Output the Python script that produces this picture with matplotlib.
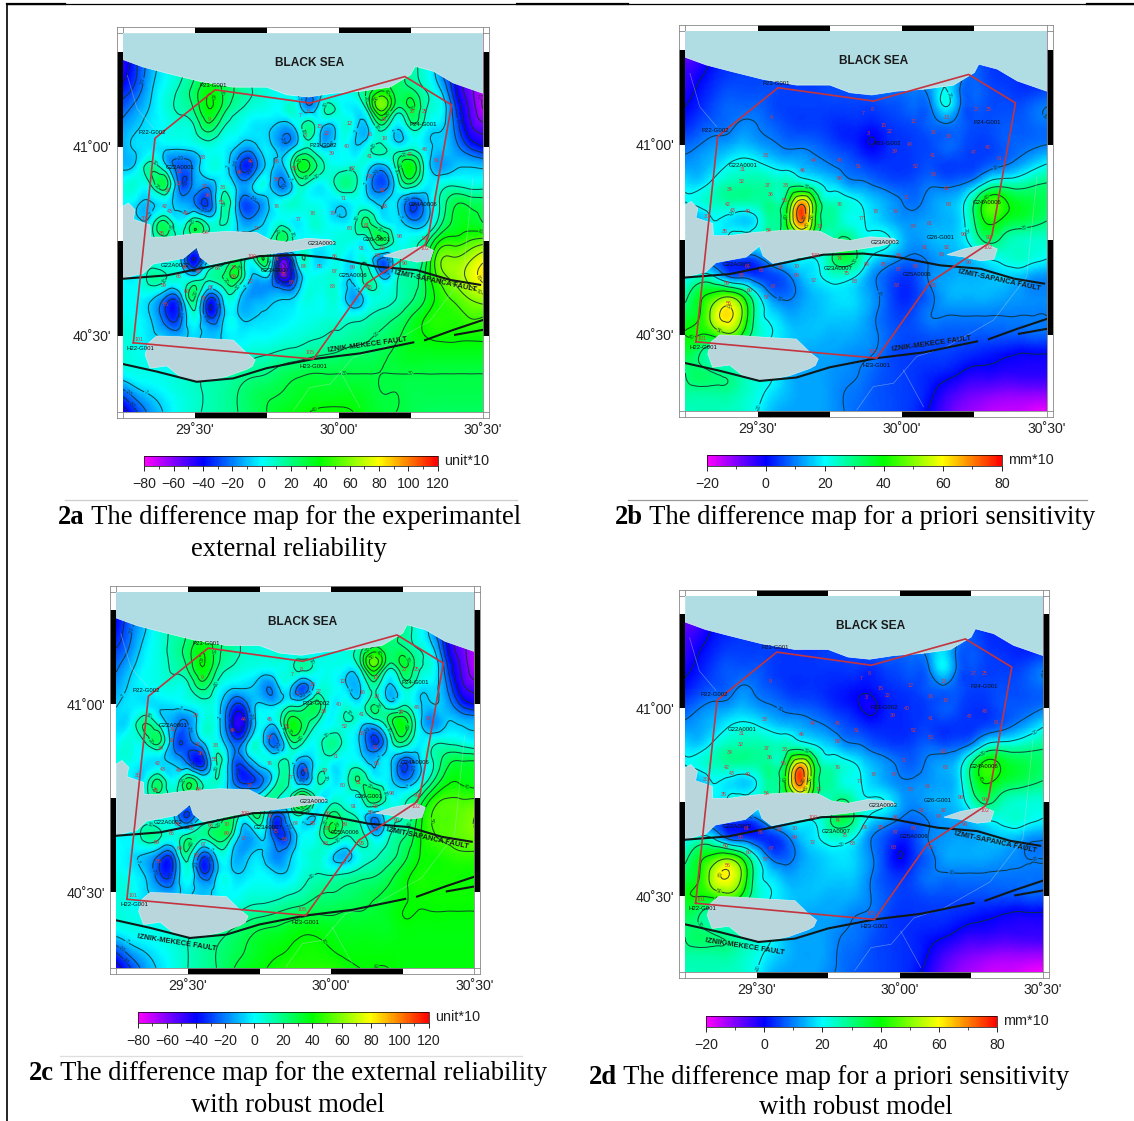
import numpy as np
import matplotlib
matplotlib.use('Agg')
import matplotlib.pyplot as plt
import matplotlib.tri as mtri
from matplotlib.cm import ScalarMappable
from matplotlib.colors import LinearSegmentedColormap, Normalize
from matplotlib.patches import Polygon, Rectangle
from matplotlib.ticker import MultipleLocator

W, H = 1134, 1121

# grid the difference values were read on
lon_grid = [29.25, 29.30, 29.35, 29.40, 29.45, 29.50, 29.55, 29.60, 29.65, 29.70, 29.75, 29.80, 29.85,
            29.90, 29.95, 30.00, 30.05, 30.10, 30.15, 30.20, 30.25, 30.30, 30.35, 30.40, 30.45, 30.50]
lat_grid = [41.30, 41.25, 41.20, 41.15, 41.10, 41.05, 41.00, 40.95, 40.90, 40.85, 40.80,
            40.75, 40.70, 40.65, 40.60, 40.55, 40.50, 40.45, 40.40, 40.35, 40.30]

values_a = [
    [-45,-30,-15,0,10,20,25,25,20,10,5,0,-5,-15,-10,-5,5,20,25,25,15,5,-20,-50,-70,-80],
    [-45,-30,-15,0,10,20,25,28,20,10,5,0,-5,-15,-10,-5,5,20,25,25,15,5,-18,-45,-65,-78],
    [-45,-30,-12,0,8,18,28,28,20,10,5,0,-5,-15,-10,-5,5,20,28,28,15,5,-15,-40,-60,-75],
    [-35,-25,-8,3,12,25,38,28,18,10,5,0,-5,-18,-8,-3,5,22,38,25,22,10,-5,-35,-55,-70],
    [-25,-15,-5,5,12,22,40,25,12,5,3,2,5,-15,10,5,-3,15,55,20,30,12,3,-25,-50,-70],
    [-15,-8,-3,2,5,10,25,10,3,-3,-5,-13,-5,18,-10,0,0,-8,15,-5,12,3,-5,-20,-45,-55],
    [-12,-5,-3,-3,-3,0,5,0,-8,-12,-3,-15,-5,8,-8,0,-5,3,12,0,5,-3,-8,-15,-30,-40],
    [-10,-3,15,-5,-25,-15,3,0,-25,-30,-5,-10,25,30,10,3,5,0,-10,15,38,5,-15,-10,-8,-10],
    [3,5,12,25,-25,-15,-15,3,-12,-8,0,-22,3,5,0,15,15,-10,-28,0,18,0,3,8,5,5],
    [0,-5,-8,-3,-12,-20,-28,15,-15,-25,-10,3,8,3,0,-5,0,0,-8,-5,-28,-15,10,28,28,25],
    [0,-3,3,22,0,22,5,12,-8,-15,-5,5,-3,5,3,-3,5,22,3,-3,-15,-10,15,32,35,30],
    [0,3,5,10,5,5,0,0,0,0,5,22,5,0,0,5,3,5,28,5,5,15,40,45,50,55],
    [0,-5,3,0,-5,-40,-5,5,25,5,25,-50,-10,3,-5,3,-3,5,-25,3,10,25,58,62,68,78],
    [0,0,15,10,5,5,12,20,25,-10,-10,-45,-25,3,5,3,-5,15,-5,8,15,30,52,62,72,82],
    [0,0,-5,-22,-15,20,-30,-3,-3,-15,-12,-8,-5,5,3,3,-15,0,5,10,18,30,44,52,60,66],
    [3,0,-8,-28,-25,5,-30,-8,-5,-8,-5,-3,0,3,5,5,5,10,15,20,30,40,45,45,50,50],
    [5,3,-5,-10,-12,-5,-10,-5,-2,0,0,3,5,8,10,12,15,18,22,28,35,40,42,42,42,42],
    [5,3,0,-3,-3,0,0,3,5,8,10,13,15,18,20,22,25,25,28,32,35,35,35,35,35,35],
    [0,3,3,3,5,8,10,12,15,18,20,25,28,30,30,30,30,30,30,30,30,30,30,30,30,30],
    [-25,-12,-5,0,5,8,12,15,20,25,28,30,33,35,35,35,35,33,30,30,28,28,28,28,28,28],
    [-45,-30,-15,-5,3,8,12,15,20,25,30,35,38,40,42,42,40,35,32,30,28,26,25,25,25,25],
]

values_b = [
    [-8,-5,0,3,3,3,3,3,3,3,3,3,3,3,5,5,8,10,12,10,5,3,3,3,3,3],
    [-8,-5,0,3,4,4,3,3,3,3,4,4,4,5,6,8,10,12,14,12,8,4,3,3,3,3],
    [-5,-2,2,4,5,5,5,4,4,4,5,6,7,8,9,10,12,14,18,12,8,5,4,4,4,4],
    [-3,1,4,6,6,6,6,5,5,5,6,6,7,8,9,9,10,13,20,10,8,6,5,4,4,5],
    [0,3,6,8,8,8,6,5,5,5,5,5,5,5,6,7,8,10,20,10,7,6,6,6,8,10],
    [3,6,8,9,11,10,8,6,5,5,4,3,3,2,4,5,6,8,9,8,6,6,7,7,8,9],
    [8,10,12,13,15,13,11,9,9,8,6,4,2,0,3,4,5,6,8,7,5,5,7,8,9,10],
    [12,13,16,20,22,21,18,16,14,12,10,8,6,4,4,4,5,6,5,5,5,7,9,12,16,20],
    [18,17,22,26,27,27,26,26,25,21,17,13,11,9,7,6,7,9,8,9,13,22,25,25,28,30],
    [20,22,25,27,27,27,28,35,65,40,25,23,20,16,13,10,9,12,14,17,30,45,42,37,35,33],
    [18,15,20,18,16,20,28,40,72,40,28,23,21,18,15,12,12,13,14,17,30,42,38,35,33,30],
    [20,18,18,20,22,22,25,28,38,30,25,32,25,22,21,15,12,14,15,17,25,32,28,25,24,24],
    [15,12,8,6,6,8,15,18,20,20,28,35,28,18,14,10,9,11,13,14,16,20,22,24,22,20],
    [20,25,22,12,10,6,5,8,14,18,22,22,18,11,7,4,6,11,13,14,14,15,16,15,12,11],
    [28,38,45,50,40,22,11,9,12,15,17,18,16,12,7,3,5,9,13,14,14,14,13,12,11,11],
    [35,40,55,62,48,25,18,14,14,15,16,16,15,11,7,5,7,10,10,10,10,10,10,10,10,10],
    [40,40,42,48,38,25,20,17,15,15,14,14,13,11,8,6,6,7,7,7,7,7,7,7,8,8],
    [35,30,25,25,25,22,18,15,14,13,13,12,11,10,7,5,5,5,5,4,3,2,1,0,0,0],
    [30,32,30,28,25,22,20,15,13,13,12,11,10,8,6,5,4,3,2,0,-2,-2,-3,-3,-3,-3],
    [28,28,28,28,25,22,18,15,13,13,12,10,9,7,6,5,4,1,-3,-6,-8,-9,-10,-10,-10,-10],
    [25,26,26,25,24,20,15,13,13,13,12,10,8,7,6,5,3,-1,-6,-10,-12,-14,-15,-15,-17,-18],
]

values_c = [
    [-40,-25,-10,5,10,20,25,28,20,10,5,0,-5,-15,-10,-5,5,20,28,28,15,5,-15,-45,-65,-75],
    [-40,-25,-10,5,10,20,26,28,20,10,5,0,-5,-15,-10,-5,5,20,28,28,15,5,-14,-42,-62,-74],
    [-38,-22,-8,5,12,20,28,28,18,10,5,0,-5,-15,-8,-3,3,18,25,25,18,5,-12,-40,-60,-72],
    [-30,-18,-3,5,14,25,38,25,15,8,5,3,0,-15,-5,0,3,15,32,22,22,10,-3,-35,-55,-68],
    [-22,-10,0,5,12,22,40,22,10,5,3,3,5,15,5,3,0,12,50,15,30,15,5,-25,-50,-68],
    [-15,-5,0,3,5,8,25,8,-3,-5,-12,-15,0,-25,0,3,-5,-8,15,-8,10,3,-3,-18,-45,-55],
    [-8,-3,-3,-5,-3,0,5,0,-25,-25,-5,-8,5,8,25,0,5,0,20,0,8,-3,-8,-12,-30,-40],
    [-5,0,20,5,-15,-20,3,0,-35,-38,0,-5,32,28,10,0,8,0,-3,20,38,5,-18,-8,-8,-10],
    [0,5,10,22,-20,-25,-8,3,-20,-15,3,-25,10,12,3,18,5,-8,-32,-3,20,0,5,8,5,0],
    [3,3,-3,-5,-10,-25,-35,10,-15,-20,0,5,10,-15,0,3,0,0,-10,-3,-25,-12,8,25,30,30],
    [0,0,0,20,0,25,5,10,-15,-35,-25,0,12,-22,8,0,5,20,3,-3,-20,-8,15,35,38,35],
    [0,3,5,10,5,5,0,0,0,0,5,15,5,40,5,3,3,5,28,5,5,18,40,50,50,50],
    [0,-5,3,0,-5,-30,-3,5,25,3,20,-28,-10,3,-5,25,15,5,-20,3,10,30,50,52,55,60],
    [0,0,15,12,5,15,15,25,15,-15,-5,-25,-25,0,5,25,10,15,-5,8,18,35,48,52,55,58],
    [0,-3,-8,-20,-20,15,-25,-3,-5,-12,-5,-18,-12,3,8,-3,-12,3,8,15,25,38,42,45,48,48],
    [3,0,-8,-28,-25,5,-28,-8,-3,-5,0,-5,-5,5,10,8,10,15,18,25,35,42,42,42,42,42],
    [5,3,-5,-12,-12,-5,-10,-3,0,3,5,5,8,12,18,20,22,25,28,32,38,42,42,42,42,42],
    [5,3,0,-3,-3,0,0,5,8,12,15,18,22,25,28,28,30,30,32,35,40,40,40,40,40,40],
    [0,3,3,3,5,8,12,15,20,25,30,32,35,38,38,36,35,35,35,35,38,38,38,38,38,38],
    [-25,-12,-5,0,5,10,15,20,25,30,35,38,40,42,42,40,38,38,38,38,38,38,38,38,38,38],
    [-45,-30,-15,-5,3,10,15,20,28,35,38,42,45,45,45,45,42,40,40,40,38,38,38,38,38,38],
]

values_d = [
    [-9,-6,-1,2,2,2,2,2,2,2,2,2,2,2,4,4,6,9,11,9,4,2,2,2,2,2],
    [-9,-6,-1,2,3,3,2,2,2,2,3,3,3,4,5,7,9,11,13,11,7,3,2,2,2,2],
    [-6,-3,1,3,4,4,4,3,3,3,4,5,6,7,8,9,11,13,16,11,7,4,3,3,3,3],
    [-4,0,3,5,5,5,5,4,4,4,5,5,6,7,8,8,9,12,18,9,7,5,4,3,3,4],
    [-1,2,5,7,7,7,5,4,4,4,4,4,4,3,5,6,7,9,18,9,6,5,5,5,7,10],
    [2,5,7,8,11,9,7,5,4,4,3,2,1,1,3,4,5,7,8,7,5,5,6,6,7,8],
    [7,10,12,13,15,13,11,9,8,7,5,3,1,-1,2,3,4,5,7,6,4,4,6,7,8,10],
    [12,13,16,20,22,21,18,16,14,12,10,7,5,3,3,3,4,5,4,4,4,6,8,11,15,20],
    [18,17,22,26,27,27,26,26,25,21,17,13,11,8,6,5,6,8,7,8,12,22,25,25,27,29],
    [20,22,25,27,27,27,28,35,65,40,25,23,20,15,12,9,8,11,13,16,30,43,40,36,34,32],
    [18,15,20,18,16,20,28,40,72,40,28,23,21,17,14,11,11,12,13,16,30,40,36,33,31,29],
    [20,18,18,20,22,22,25,28,38,30,25,32,25,21,20,14,11,13,14,16,24,31,27,24,23,23],
    [15,12,8,5,5,7,15,18,20,20,28,34,27,17,13,9,8,10,12,13,15,19,21,23,21,19],
    [20,25,22,12,9,5,3,7,14,18,22,22,18,10,6,2,5,10,12,13,13,14,15,14,11,10],
    [28,38,45,50,40,22,10,8,12,15,17,18,16,11,5,0,4,8,12,13,13,13,12,11,10,10],
    [35,40,55,60,48,25,18,14,14,15,16,16,15,10,6,4,6,9,9,9,9,9,9,9,9,9],
    [38,40,42,46,38,25,20,17,15,15,14,14,13,10,7,5,5,6,6,6,6,6,6,6,7,7],
    [33,30,25,25,25,22,18,15,14,13,13,12,10,9,6,4,4,4,4,3,2,1,0,-1,-1,-1],
    [30,32,30,28,25,22,20,15,13,13,12,10,9,7,5,4,3,2,1,-1,-3,-3,-4,-4,-4,-4],
    [28,28,28,28,25,22,18,15,13,13,12,9,8,6,5,4,3,0,-4,-7,-9,-10,-11,-11,-11,-11],
    [25,26,26,25,24,20,15,13,13,13,11,9,7,6,5,4,2,-2,-7,-11,-13,-15,-16,-16,-18,-19],
]

# contour values drawn on each pair of maps
levels_unit = [-70, -60, -50, -40, -30, -20, -7, 10, 20, 30, 40, 50, 60, 70, 80]
levels_mm = [0, 10, 20, 30, 40, 50, 60, 70]

# coast, lakes, rivers, faults, network
black_sea_lon = [29.25, 29.322, 29.403, 29.519, 29.634, 29.75, 29.819, 29.895, 29.981, 30.074, 30.178,
                 30.25, 30.265, 30.329, 30.398, 30.5, 30.5, 29.25]
black_sea_lat = [41.23, 41.21, 41.194, 41.172, 41.157, 41.157, 41.137, 41.131, 41.141, 41.146, 41.157,
                 41.19, 41.212, 41.199, 41.168, 41.141, 41.3, 41.3]
gulf_lon = [29.25, 29.27, 29.293, 29.287, 29.345, 29.347, 29.403, 29.495, 29.611, 29.715, 29.762, 29.819,
            29.889, 29.97, 29.987, 29.924, 29.831, 29.75, 29.657, 29.553, 29.519, 29.507, 29.461, 29.356,
            29.322, 29.25]
gulf_lat = [40.842, 40.851, 40.833, 40.808, 40.793, 40.761, 40.761, 40.77, 40.776, 40.773, 40.754, 40.748,
            40.758, 40.754, 40.745, 40.734, 40.723, 40.716, 40.705, 40.688, 40.708, 40.734, 40.705, 40.69,
            40.666, 40.652]
sapanca_lon = [30.155, 30.213, 30.294, 30.329, 30.317, 30.271, 30.213]
sapanca_lat = [40.711, 40.726, 40.738, 40.726, 40.699, 40.695, 40.705]
iznik_lon = [29.328, 29.339, 29.368, 29.445, 29.519, 29.634, 29.66, 29.681, 29.71, 29.70, 29.681, 29.611, 29.519,
             29.449, 29.403, 29.345]
iznik_lat = [40.45, 40.481, 40.5, 40.498, 40.494, 40.489, 40.47, 40.454, 40.437, 40.42, 40.412, 40.393, 40.379,
             40.393, 40.421, 40.415]
river_lon = [29.843, 29.9, 29.97, 30.05, 30.154, 30.316, 30.431, 30.466]
river_lat = [40.303, 40.364, 40.373, 40.443, 40.469, 40.539, 40.653, 40.916]
river2_lon = [30.004, 30.074]
river2_lat = [40.408, 40.311]
river3_lon = [29.266, 29.3, 29.358]
river3_lat = [41.188, 41.1, 41.048]

izmit_lon = [29.25, 29.403, 29.576, 29.727, 29.866, 29.981, 30.132, 30.271, 30.387, 30.491]
izmit_lat = [40.651, 40.66, 40.687, 40.711, 40.714, 40.705, 40.683, 40.674, 40.648, 40.635]
mekece_lon = [29.25, 29.368, 29.507, 29.634, 29.75, 29.912, 30.074, 30.259]
mekece_lat = [40.426, 40.406, 40.379, 40.388, 40.415, 40.439, 40.454, 40.483]
mekece2_lon = [30.3, 30.398, 30.5]
mekece2_lat = [40.489, 40.516, 40.542]
mekece3_lon = [30.404, 30.5]
mekece3_lat = [40.503, 40.516]

network_lon = [29.287, 29.362, 29.571, 29.901, 30.23, 30.392, 30.311, 30.30, 30.097, 29.912, 29.287]
network_lat = [40.482, 41.022, 41.15, 41.115, 41.185, 41.11, 40.763, 40.741, 40.639, 40.439, 40.482]

station_names = ['P23-G001', 'P22-G002', 'G22A0001', 'P23-G002', 'P24-G001', 'G24A0006', 'G23A0003',
                 'G26-G001', 'G22A0002', 'G23A0007', 'G25A0006', 'H22-G001', 'H23-G001']
station_lon = [29.565, 29.353, 29.449, 29.947, 30.294, 30.294, 29.941, 30.132, 29.431, 29.779, 30.05, 29.312, 29.912]
station_lat = [41.162, 41.037, 40.945, 41.003, 41.058, 40.847, 40.743, 40.756, 40.685, 40.674, 40.66, 40.468, 40.42]

point_lon = [29.549,29.866,29.895,29.935,29.883,29.958,30.039,30.108,30.16,30.154,30.258,30.298,30.027,29.975,
             30.108,30.048,30.108,30.247,30.298,30.339,29.529,29.695,29.785,29.849,29.658,29.785,29.448,29.445,
             29.405,29.535,29.598,29.546,29.396,29.414,29.468,29.595,29.324,29.387,29.537,29.716,29.785,29.86,
             29.91,29.979,30.016,30.039,30.097,30.154,30.16,30.212,30.079,30.154,30.137,30.298,30.298,30.229,
             30.108,29.981,29.987,29.935,29.877,29.987,30.048,29.837,29.808,29.785,29.698,29.635,29.635,29.695,
             29.58,29.514,29.554,29.465,29.445,29.393,29.471,29.531,29.399,29.307,29.9]
point_lat = [41.072,41.081,41.093,41.052,41.03,41.034,41.061,41.032,41.021,41.072,41.093,41.093,41.001,40.982,
             40.973,40.942,40.922,40.98,40.992,40.964,40.971,40.96,40.96,40.942,40.932,40.912,40.934,40.903,
             40.883,40.894,40.892,40.87,40.842,40.828,40.824,40.853,40.811,40.771,40.774,40.785,40.843,40.807,
             40.824,40.824,40.862,40.785,40.793,40.885,40.843,40.763,40.73,40.73,40.712,40.757,40.73,40.691,
             40.629,40.631,40.71,40.684,40.684,40.671,40.68,40.64,40.662,40.701,40.71,40.681,40.656,40.644,
             40.678,40.67,40.627,40.68,40.656,40.634,40.618,40.599,40.583,40.491,40.456]
point_ids = ['9','7','8','15','3','22','12','16','18','13','27','25','40','39','41','52','53','47','48','61',
             '33','44','45','51','46','58','31','32','34','37','38','36','42','43','49','55','30','35','54','73',
             '76','77','78','79','71','80','81','62','63','98','91','92','93','99','102','90','95','88','86',
             '85','84','87','89','83','75','74','100','70','69','72','68','66','67','64','65','59','60','57',
             '56','101','105']

frames = {
    'a': dict(x0=122.7, x1=482.7, y0=33.0, y1=411.7, values=values_a, vmin=-80, vmax=120, unit='unit*10',
              bar=(144.3, 437.7, 455.7, 466.0), major=20, minor=10, fault_low=False, levels=levels_unit),
    'b': dict(x0=685.3, x1=1046.7, y0=30.7, y1=411.0, values=values_b, vmin=-20, vmax=80, unit='mm*10',
              bar=(706.7, 1001.7, 455.0, 465.7), major=20, minor=10, fault_low=False, levels=levels_mm),
    'c': dict(x0=116.3, x1=474.3, y0=591.7, y1=967.7, values=values_c, vmin=-80, vmax=120, unit='unit*10',
              bar=(137.7, 429.0, 1011.7, 1022.7), major=20, minor=10, fault_low=True, levels=levels_unit),
    'd': dict(x0=685.0, x1=1042.7, y0=595.7, y1=971.7, values=values_d, vmin=-20, vmax=80, unit='mm*10',
              bar=(705.7, 997.3, 1016.0, 1026.7), major=20, minor=10, fault_low=True, levels=levels_mm),
}

plt.rcParams['font.family'] = ['Liberation Sans', 'DejaVu Sans']
cmap = LinearSegmentedColormap.from_list('gmt_rainbow', ['#ff00ff', '#0000ff', '#00ffff', '#00ff00', '#ffff00', '#ff0000'])

fig = plt.figure(figsize=(W / 100, H / 100), dpi=100)
bg = fig.add_axes([0, 0, 1, 1])
bg.set_xlim(0, W)
bg.set_ylim(H, 0)
bg.axis('off')

# table rules
bg.plot([7, 7], [4, H], color='black', lw=1.2)
bg.plot([7, W], [4, 4], color='black', lw=0.9)
for a, b in [(7, 65), (517, 628), (1087, W)]:
    bg.plot([a, b], [4, 4], color='black', lw=1.6)
bg.plot([65, 517], [500, 500], color='#cccccc', lw=0.9)
bg.plot([628, 1087], [500, 500], color='#999999', lw=0.9)
bg.plot([60, 522], [1056, 1056], color='#dddddd', lw=0.9)


def draw_frame(x0, x1, y0, y1):
    s = 6
    dx = (x1 - x0) / 1.25
    dy = (y1 - y0) / 1.0
    for k in (1, 3):
        xa = x0 + k * 0.25 * dx
        bg.add_patch(Rectangle((xa, y0 - s), 0.25 * dx, s, color='black', lw=0))
        bg.add_patch(Rectangle((xa, y1), 0.25 * dx, s, color='black', lw=0))
    for lat_top in (41.25, 40.75):
        ya = y0 + (41.3 - lat_top) * dy
        bg.add_patch(Rectangle((x0 - s, ya), s, 0.25 * dy, color='black', lw=0))
        bg.add_patch(Rectangle((x1, ya), s, 0.25 * dy, color='black', lw=0))
    for v in (x0 - s, x0, x1, x1 + s):
        bg.plot([v, v], [y0 - s, y1 + s], color='#888888', lw=0.6)
    for v in (y0 - s, y0, y1, y1 + s):
        bg.plot([x0 - s, x1 + s], [v, v], color='#888888', lw=0.6)


def draw_map(p):
    x0, x1, y0, y1 = p['x0'], p['x1'], p['y0'], p['y1']
    draw_frame(x0, x1, y0, y1)
    ax = fig.add_axes([x0 / W, 1 - y1 / H, (x1 - x0) / W, (y1 - y0) / H])
    ax.patch.set_alpha(0)

    lon, lat = np.meshgrid(lon_grid, lat_grid)
    tri = mtri.Triangulation(lon.ravel(), lat.ravel())
    refiner = mtri.UniformTriRefiner(tri)
    fine, z = refiner.refine_field(np.array(p['values'], dtype=float).ravel(), subdiv=3)
    ax.tripcolor(fine, z, shading='gouraud', cmap=cmap, vmin=p['vmin'], vmax=p['vmax'], zorder=1)
    cs = ax.tricontour(fine, z, levels=p['levels'], colors='#10302e', linewidths=0.75, alpha=0.85,
                       linestyles='solid', zorder=2)
    for label in ax.clabel(cs, fontsize=3.6, fmt='%d', inline=True, inline_spacing=0):
        label.set_zorder(2.5)

    for xs, ys in [(river_lon, river_lat), (river2_lon, river2_lat), (river3_lon, river3_lat)]:
        ax.plot(xs, ys, color='#c8d8d8', lw=0.5, alpha=0.45, zorder=2)
    ax.add_patch(Polygon(np.c_[black_sea_lon, black_sea_lat], fc='#b0dde4', ec='#d8f0f0', lw=0.5, zorder=3))
    for xs, ys in [(gulf_lon, gulf_lat), (sapanca_lon, sapanca_lat), (iznik_lon, iznik_lat)]:
        ax.add_patch(Polygon(np.c_[xs, ys], fc='#b9d6dd', ec='#d5e8ea', lw=0.5, zorder=3))

    ax.plot(izmit_lon, izmit_lat, color='#101818', lw=1.5, zorder=4)
    for xs, ys in [(mekece_lon, mekece_lat), (mekece2_lon, mekece2_lat), (mekece3_lon, mekece3_lat)]:
        ax.plot(xs, ys, color='#101818', lw=1.5, zorder=4)
    ax.plot(network_lon, network_lat, color='#c4343f', lw=1.2, zorder=5)

    for name, a, b in zip(station_names, station_lon, station_lat):
        ax.text(a, b, name, fontsize=4.3, color='#101010', ha='center', va='center', zorder=6)
    for name, a, b in zip(point_ids, point_lon, point_lat):
        ax.text(a, b, name, fontsize=3.8, color='#d8343f', ha='center', va='center', zorder=6)

    ax.text(29.90, 41.22, 'BLACK SEA', fontsize=8.6, fontweight='bold', color='#1a1a1a',
            ha='center', va='center', zorder=6)
    ax.text(30.335, 40.644, 'IZMIT-SAPANCA FAULT', fontsize=5.4, fontweight='bold', color='#1a1a1a',
            rotation=-12, ha='center', va='center', zorder=6)
    if p['fault_low']:
        ax.text(29.46, 40.365, 'IZNIK-MEKECE FAULT', fontsize=5.4, fontweight='bold', color='#1a1a1a',
                rotation=-9, ha='center', va='center', zorder=6)
    else:
        ax.text(30.10, 40.476, 'IZNIK-MEKECE FAULT', fontsize=5.4, fontweight='bold', color='#1a1a1a',
                rotation=8, ha='center', va='center', zorder=6)

    ax.set_xlim(29.25, 30.5)
    ax.set_ylim(40.3, 41.3)
    ax.set_xticks([29.5, 30.0, 30.5], ["29˚30'", "30˚00'", "30˚30'"])
    ax.set_yticks([40.5, 41.0], ["40˚30'", "41˚00'"])
    ax.tick_params(length=0, labelsize=10.2, labelcolor='#222222')
    ax.tick_params(axis='x', pad=8)
    ax.tick_params(axis='y', pad=8)
    for s in ax.spines.values():
        s.set_visible(False)

    # scale bar
    bx0, bx1, by0, by1 = p['bar']
    cax = fig.add_axes([bx0 / W, 1 - by1 / H, (bx1 - bx0) / W, (by1 - by0) / H])
    sm = ScalarMappable(norm=Normalize(p['vmin'], p['vmax']), cmap=cmap)
    cb = fig.colorbar(sm, cax=cax, orientation='horizontal')
    cb.set_ticks(list(range(p['vmin'], p['vmax'] + 1, p['major'])))
    cb.ax.xaxis.set_minor_locator(MultipleLocator(p['minor']))
    cb.ax.tick_params(which='major', length=3.5, width=0.6, labelsize=10.2, pad=4.5, labelcolor='#222222')
    cb.ax.tick_params(which='minor', length=2, width=0.5)
    cb.outline.set_linewidth(0.5)
    bg.text(bx1 + 6, (by0 + by1) / 2, p['unit'], fontsize=10.4, color='#222222', ha='left', va='center')


for p in frames.values():
    draw_map(p)

caption_font = 'Liberation Serif'
caption_size = 19.2
renderer = fig.canvas.get_renderer()


def caption(x, y, bold, rest):
    t = bg.text(x, y, bold, fontsize=caption_size, family=caption_font, fontweight='bold', ha='left', va='center')
    end = t.get_window_extent(renderer).x1
    bg.text(end, y, ' ' + rest, fontsize=caption_size, family=caption_font, ha='left', va='center')


caption(58, 518, '2a', 'The difference map for the experimantel')
bg.text(288.5, 549, 'external reliability', fontsize=caption_size, family=caption_font, ha='center', va='center')
caption(615, 518, '2b', 'The difference map for a priori sensitivity')
caption(29, 1074, '2c', 'The difference map for the external reliability')
bg.text(287.5, 1105, 'with robust model', fontsize=caption_size, family=caption_font, ha='center', va='center')
caption(589, 1078, '2d', 'The difference map for a priori sensitivity')
bg.text(855.5, 1108, 'with robust model', fontsize=caption_size, family=caption_font, ha='center', va='center')

fig.savefig('out.png', dpi=100)
